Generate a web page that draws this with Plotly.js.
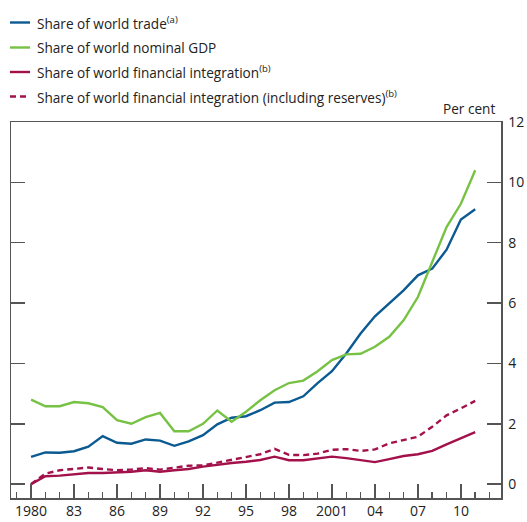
<!DOCTYPE html>
<html>
<head>
<meta charset="utf-8">
<script src="https://cdn.plot.ly/plotly-3.0.1.min.js"></script>
<style>html,body{margin:0;padding:0;background:#fff;}#chart{width:527px;height:522px;}</style>
</head>
<body>
<div id="chart"></div>
<script>
var years = [1980,1981,1982,1983,1984,1985,1986,1987,1988,1989,1990,1991,1992,1993,1994,1995,1996,1997,1998,1999,2000,2001,2002,2003,2004,2005,2006,2007,2008,2009,2010,2011];
var tradeShare = [0.90,1.05,1.04,1.09,1.24,1.59,1.37,1.34,1.48,1.44,1.27,1.42,1.62,1.98,2.20,2.25,2.45,2.70,2.72,2.91,3.35,3.74,4.33,4.99,5.56,5.98,6.42,6.92,7.14,7.77,8.77,9.11];
var gdpShare = [2.80,2.58,2.58,2.72,2.68,2.55,2.12,2.00,2.22,2.36,1.75,1.75,2.00,2.44,2.07,2.40,2.78,3.11,3.35,3.43,3.74,4.11,4.30,4.32,4.55,4.88,5.43,6.20,7.36,8.52,9.29,10.40];
var finShare = [0.00,0.26,0.28,0.32,0.37,0.37,0.39,0.41,0.46,0.41,0.46,0.50,0.58,0.65,0.70,0.74,0.80,0.91,0.79,0.79,0.84,0.91,0.86,0.80,0.73,0.83,0.93,0.99,1.10,1.32,1.51,1.72];
var finResShare = [0.00,0.35,0.46,0.50,0.55,0.50,0.46,0.48,0.53,0.48,0.55,0.61,0.62,0.71,0.82,0.89,0.99,1.17,0.97,0.96,1.01,1.14,1.16,1.10,1.15,1.35,1.46,1.57,1.90,2.28,2.51,2.76];
var seriesNames = ['Share of world trade<sup>(a)</sup>','Share of world nominal GDP','Share of world financial integration<sup>(b)</sup>','Share of world financial integration (including reserves)<sup>(b)</sup>'];
var xTickVals = [1980,1983,1986,1989,1992,1995,1998,2001,2004,2007,2010];
var xTickText = ['1980','83','86','89','92','95','98','2001','04','07','10'];
var yTickVals = [0,2,4,6,8,10,12];

var colors = ['#0b5a91','#77c244','#a3114b','#a3114b'];
var dashes = ['solid','solid','solid','6px,4px'];
var seriesData = [tradeShare, gdpShare, finShare, finResShare];

var traces = seriesData.map(function(d,i){
  return {x: years, y: d, type:'scatter', mode:'lines', name: seriesNames[i], showlegend:false,
    line:{color: colors[i], width:2.4, dash: dashes[i]}, hoverinfo:'skip'};
});
traces = [traces[3], traces[2], traces[0], traces[1]];

var fontFam = 'Open Sans, sans-serif';
var W = 490, H = 376, L = 11, T = 122;
function px(x){ return (x - L)/W; }
function py(y){ return (T + H - y)/H; }

var shapes = [], annotations = [];
var rowY = [22.5, 47.5, 72, 96.5];
for (var i=0;i<4;i++){
  shapes.push({type:'line', xref:'paper', yref:'paper', x0:px(10), x1:px(30), y0:py(rowY[i]), y1:py(rowY[i]),
    line:{color:colors[i], width:2.4, dash: i===3 ? '6px,4px' : 'solid'}});
  annotations.push({xref:'paper', yref:'paper', x:px(35), y:py(rowY[i]), xanchor:'left', yanchor:'middle',
    text: seriesNames[i], showarrow:false, font:{family:fontFam, size:13.6, color:'#222'}});
}
annotations.push({xref:'paper', yref:'paper', x:px(497), y:py(108), xanchor:'right', yanchor:'middle',
  text:'Per cent', showarrow:false, font:{family:fontFam, size:13.6, color:'#222'}});

var layout = {
  width:527, height:522,
  margin:{l:L, r:527-(L+W), t:T, b:522-(T+H), pad:0},
  paper_bgcolor:'#fff', plot_bgcolor:'#fff',
  font:{family:fontFam, size:13.6, color:'#222'},
  showlegend:false,
  xaxis:{range:[1978.6,2012.8], tickmode:'array', tickvals:xTickVals, ticktext:xTickText,
    ticks:'inside', ticklen:14, tickwidth:1.5, tickcolor:'#555',
    minor:{tick0:1980, dtick:1, ticks:'inside', ticklen:6, tickwidth:1.5, tickcolor:'#555'},
    showline:true, linecolor:'#555', linewidth:1.5, mirror:true, showgrid:false, zeroline:false,
    tickfont:{family:fontFam, size:14, color:'#222'}},
  yaxis:{range:[-0.46,12], side:'right', tickmode:'array', tickvals:yTickVals,
    ticks:'inside', ticklen:14, tickwidth:1.5, tickcolor:'#555', ticklabelstandoff:3,
    showline:true, linecolor:'#555', linewidth:1.5, mirror:'ticks', showgrid:false, zeroline:false,
    tickfont:{family:fontFam, size:14, color:'#222'}},
  shapes:shapes, annotations:annotations
};
Plotly.newPlot('chart', traces, layout, {displayModeBar:false, staticPlot:true});
</script>
</body>
</html>
